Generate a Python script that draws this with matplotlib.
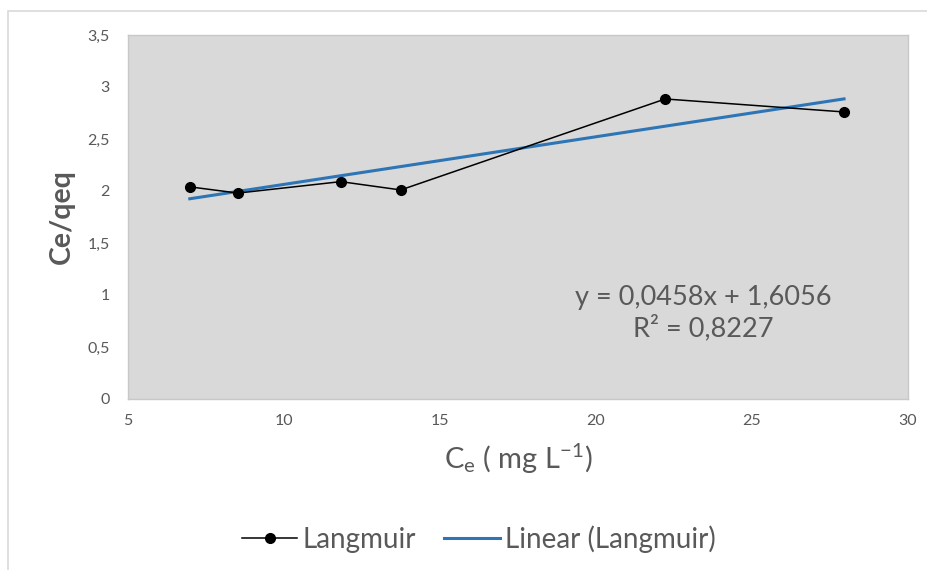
import matplotlib
matplotlib.use("Agg")
import matplotlib.pyplot as plt
from matplotlib.ticker import FuncFormatter, MultipleLocator
from matplotlib.patches import Rectangle
import numpy as np

# Langmuir linearisation: Ce versus Ce/qeq
ce = [6.98, 8.52, 11.82, 13.74, 22.22, 27.95]
ce_qeq = [2.04, 1.98, 2.09, 2.01, 2.885, 2.76]

# Least-squares trendline reported on the chart
slope = 0.0458
intercept = 1.6056
r_squared = 0.8227

plt.rcParams["font.family"] = ["Lato", "DejaVu Sans"]
plt.rcParams["mathtext.fontset"] = "custom"
plt.rcParams["mathtext.rm"] = "Lato"
plt.rcParams["mathtext.it"] = "Lato:italic"

text_color = "#595959"

fig = plt.figure(figsize=(9.28, 5.70), dpi=100)
fig.patch.set_facecolor("white")

# outer chart frame
fig.add_artist(Rectangle((8 / 928, -0.1), 1.2, 1.1 - 11 / 570,
                         transform=fig.transFigure, fill=False,
                         edgecolor="#D9D9D9", linewidth=1.2))

ax = fig.add_axes([128 / 928, 1 - 399 / 570, (908 - 128) / 928, (399 - 35) / 570])
ax.set_facecolor("#D9D9D9")
for side in ax.spines.values():
    side.set_color("#C8C8C8")
    side.set_linewidth(1.0)

line_data, = ax.plot(ce, ce_qeq, color="black", linewidth=1.1, marker="o",
                     markersize=7, label="Langmuir", zorder=3)

x_fit = np.array([min(ce), max(ce)])
line_fit, = ax.plot(x_fit, slope * x_fit + intercept, color="#2E75B6",
                    linewidth=2.2, label="Linear (Langmuir)", zorder=2)

ax.set_xlim(5, 30)
ax.set_ylim(0, 3.5)
ax.xaxis.set_major_locator(MultipleLocator(5))
ax.yaxis.set_major_locator(MultipleLocator(0.5))

comma = FuncFormatter(lambda v, pos: f"{v:g}".replace(".", ","))
ax.xaxis.set_major_formatter(comma)
ax.yaxis.set_major_formatter(comma)
ax.tick_params(axis="both", length=0, labelsize=11.5, labelcolor=text_color)
ax.tick_params(axis="y", pad=13)
ax.tick_params(axis="x", pad=11)

ax.set_ylabel("Ce/qeq", fontsize=20.5, fontweight="bold", color=text_color, labelpad=9)
ax.set_xlabel(r"C$_\mathregular{e}$ ( mg L$^\mathregular{-1}$)", fontsize=21,
              color=text_color, labelpad=10)

eq = f"y = {slope:.4f}x + {intercept:.4f}".replace(".", ",")
r2 = f"R² = {r_squared:.4f}".replace(".", ",")
ax.text(0.737, 0.236, eq + "\n" + r2, transform=ax.transAxes, ha="center",
        va="center", fontsize=19.5, color=text_color, linespacing=1.2)

fig.legend(handles=[line_data, line_fit], loc="center",
           bbox_to_anchor=(0.516, 1 - 539 / 570), ncol=2, frameon=False,
           fontsize=20, labelcolor=text_color, handlelength=2.0,
           handletextpad=0.2, columnspacing=1.0)

fig.savefig("out.png", dpi=100, facecolor=fig.get_facecolor())
